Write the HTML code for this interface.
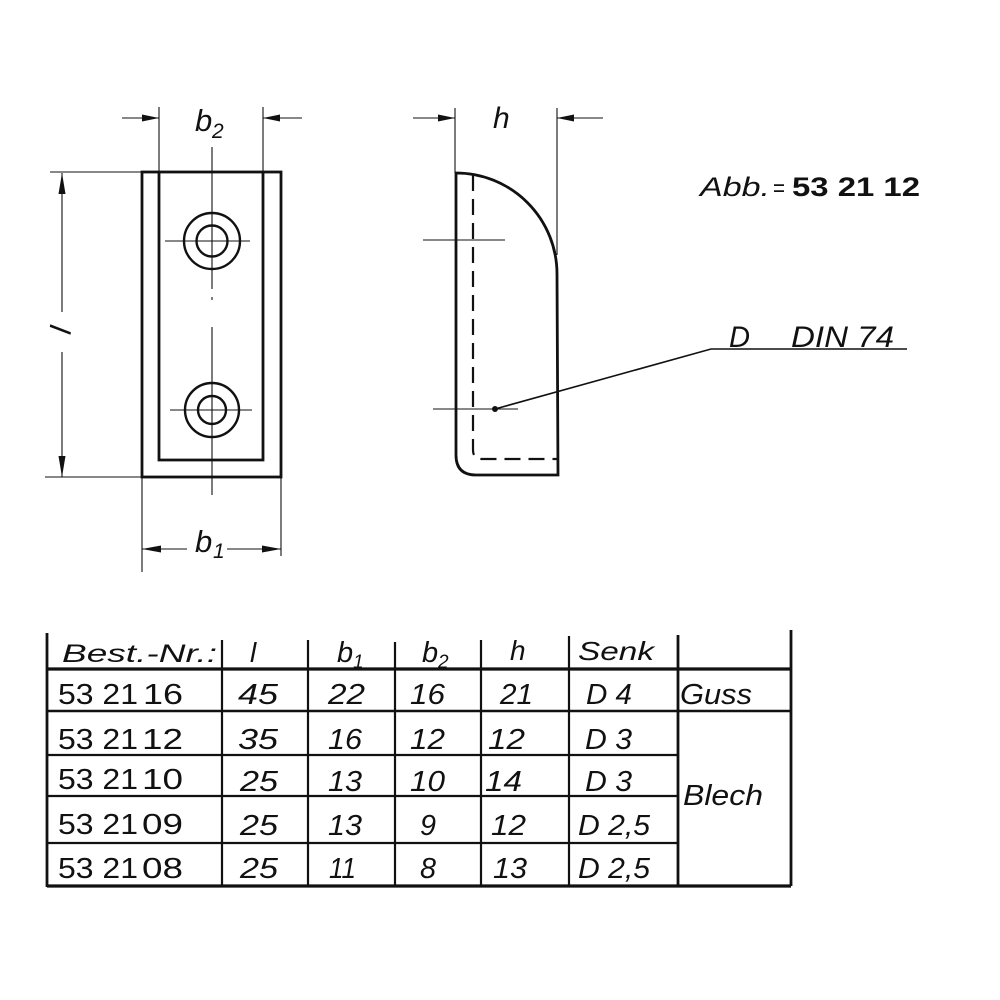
<!DOCTYPE html>
<html>
<head>
<meta charset="utf-8">
<style>
html,body{margin:0;padding:0;background:#fff;}
svg{display:block;}
text{font-family:"Liberation Sans",sans-serif;fill:#111;}
.it{font-style:italic;}
</style>
</head>
<body>
<svg width="1000" height="1000" viewBox="0 0 1000 1000" xmlns="http://www.w3.org/2000/svg">
<rect width="1000" height="1000" fill="#fff"/>
<g stroke="#111" fill="none" stroke-linecap="butt">
  <!-- LEFT VIEW -->
  <rect x="142" y="172" width="139" height="305" stroke-width="2.8"/>
  <path d="M159,172 L159,460 L263,460 L263,172" stroke-width="2.8"/>
  <circle cx="212" cy="241" r="28" stroke-width="2.4"/>
  <circle cx="212" cy="241" r="15.5" stroke-width="2.4"/>
  <circle cx="212" cy="410" r="27" stroke-width="2.4"/>
  <circle cx="212" cy="410" r="14" stroke-width="2.4"/>
  <!-- center lines -->
  <path d="M212,147 L212,289 M212,297 L212,300 M212,327 L212,495" stroke-width="1.1"/>
  <path d="M165,241 L250,241 M170,410 L252,410" stroke-width="1.1"/>
  <!-- b2 dim -->
  <path d="M159,107 L159,172 M263,107 L263,172" stroke-width="1.1"/>
  <path d="M122,118 L159,118 M263,118 L302,118" stroke-width="1.1"/>
  <!-- l dim -->
  <path d="M50,172 L142,172 M45,477 L142,477" stroke-width="1.1"/>
  <path d="M62,173 L62,312 M62,352 L62,477" stroke-width="1.1"/>
  <!-- b1 dim -->
  <path d="M142,477 L142,572 M281,477 L281,556" stroke-width="1.1"/>
  <path d="M142,549 L187,549 M227,549 L281,549" stroke-width="1.1"/>

  <!-- RIGHT VIEW -->
  <path d="M456,173 A101,101 0 0 1 557,274 L558,475 L476,475 Q456,475 456,455 Z" stroke-width="2.8"/>
  <path d="M473,175 L473,450 Q473,459 482,459 L557,459" stroke-width="2.2" stroke-dasharray="16,8"/>
  <path d="M455,108 L455,173 M557,108 L557,255" stroke-width="1.1"/>
  <path d="M413,118 L455,118 M557,118 L603,118" stroke-width="1.1"/>
  <path d="M423,240 L505,240 M433,409 L518,409" stroke-width="1.1"/>
  <path d="M495,409 L711,349 L907,349" stroke-width="1.6"/>

  <!-- TABLE -->
  <path d="M47,633 L47,887" stroke-width="2.8"/>
  <path d="M222,640 L222,886 M308,640 L308,886 M395,642 L395,886 M481,640 L481,886 M569,636 L569,886" stroke-width="2.2"/>
  <path d="M678,635 L678,886 M791,630 L791,886" stroke-width="2.8"/>
  <path d="M47,669 L791,669" stroke-width="3.2"/>
  <path d="M47,711 L791,711" stroke-width="2.4"/>
  <path d="M47,755 L678,755 M47,796 L678,796 M47,843 L678,843" stroke-width="2.2"/>
  <path d="M47,886 L791,886" stroke-width="3.2"/>
</g>

<!-- arrowheads -->
<g fill="#111" stroke="none">
  <polygon points="159,118 142,114.5 142,121.5"/>
  <polygon points="263,118 280,114.5 280,121.5"/>
  <polygon points="455,118 438,114.5 438,121.5"/>
  <polygon points="557,118 574,114.5 574,121.5"/>
  <polygon points="62,173 58.5,194 65.5,194"/>
  <polygon points="62,477 58.5,456 65.5,456"/>
  <polygon points="142,549 161,545.5 161,552.5"/>
  <polygon points="281,549 262,545.5 262,552.5"/>
  <circle cx="495" cy="409" r="3"/>
</g>

<!-- drawing labels -->
<text class="it" x="195" y="131" font-size="31">b</text>
<text class="it" x="212" y="138" font-size="21">2</text>
<text class="it" x="493" y="128" font-size="30">h</text>
<text class="it" x="195" y="552" font-size="31">b</text>
<text class="it" x="213" y="558" font-size="21">1</text>
<text class="it" font-size="30" transform="translate(71,332) rotate(-80)" text-anchor="middle">l</text>

<text class="it" x="700" y="196" font-size="27" textLength="70" lengthAdjust="spacingAndGlyphs">Abb.</text>
<text x="773" y="196" font-size="24" textLength="12" lengthAdjust="spacingAndGlyphs">=</text>
<text x="792" y="196" font-size="27" font-weight="bold" textLength="128" lengthAdjust="spacingAndGlyphs">53 21 12</text>

<text class="it" x="729" y="347" font-size="30" textLength="21" lengthAdjust="spacingAndGlyphs">D</text>
<text class="it" x="791" y="347" font-size="30" textLength="103" lengthAdjust="spacingAndGlyphs">DIN 74</text>

<!-- table header -->
<text class="it" x="62" y="662" font-size="25" textLength="155" lengthAdjust="spacingAndGlyphs">Best.-Nr.:</text>
<text class="it" x="250" y="662" font-size="28">l</text>
<text class="it" x="337" y="662" font-size="29">b</text>
<text class="it" x="353" y="668" font-size="19">1</text>
<text class="it" x="422" y="662" font-size="29">b</text>
<text class="it" x="438" y="668" font-size="19">2</text>
<text class="it" x="510" y="660" font-size="28">h</text>
<text class="it" x="578" y="660" font-size="26" textLength="76" lengthAdjust="spacingAndGlyphs">Senk</text>

<!-- column 1 -->
<g font-size="29">
  <text x="58" y="704" textLength="80" lengthAdjust="spacingAndGlyphs">53 21</text>
  <text x="143" y="704" textLength="40" lengthAdjust="spacingAndGlyphs">16</text>
  <text x="58" y="749" textLength="80" lengthAdjust="spacingAndGlyphs">53 21</text>
  <text x="142" y="749" textLength="41" lengthAdjust="spacingAndGlyphs">12</text>
  <text x="58" y="789" textLength="80" lengthAdjust="spacingAndGlyphs">53 21</text>
  <text x="142" y="789" textLength="41" lengthAdjust="spacingAndGlyphs">10</text>
  <text x="58" y="834" textLength="80" lengthAdjust="spacingAndGlyphs">53 21</text>
  <text x="142" y="834" textLength="41" lengthAdjust="spacingAndGlyphs">09</text>
  <text x="58" y="878" textLength="80" lengthAdjust="spacingAndGlyphs">53 21</text>
  <text x="142" y="878" textLength="41" lengthAdjust="spacingAndGlyphs">08</text>
</g>

<!-- data -->
<g font-size="29" font-style="italic">
  <text x="238" y="704" textLength="40" lengthAdjust="spacingAndGlyphs">45</text>
  <text x="328" y="704" textLength="37" lengthAdjust="spacingAndGlyphs">22</text>
  <text x="410" y="704" textLength="35" lengthAdjust="spacingAndGlyphs">16</text>
  <text x="500" y="704" textLength="33" lengthAdjust="spacingAndGlyphs">21</text>
  <text x="586" y="704" textLength="46" lengthAdjust="spacingAndGlyphs">D 4</text>
  <text x="680" y="704" textLength="72" lengthAdjust="spacingAndGlyphs">Guss</text>

  <text x="238" y="749" textLength="40" lengthAdjust="spacingAndGlyphs">35</text>
  <text x="328" y="749" textLength="34" lengthAdjust="spacingAndGlyphs">16</text>
  <text x="410" y="749" textLength="35" lengthAdjust="spacingAndGlyphs">12</text>
  <text x="488" y="749" textLength="37" lengthAdjust="spacingAndGlyphs">12</text>
  <text x="585" y="749" textLength="47" lengthAdjust="spacingAndGlyphs">D 3</text>

  <text x="240" y="791" textLength="38" lengthAdjust="spacingAndGlyphs">25</text>
  <text x="328" y="791" textLength="34" lengthAdjust="spacingAndGlyphs">13</text>
  <text x="410" y="791" textLength="35" lengthAdjust="spacingAndGlyphs">10</text>
  <text x="485" y="791" textLength="37" lengthAdjust="spacingAndGlyphs">14</text>
  <text x="585" y="791" textLength="47" lengthAdjust="spacingAndGlyphs">D 3</text>

  <text x="240" y="835" textLength="38" lengthAdjust="spacingAndGlyphs">25</text>
  <text x="328" y="835" textLength="34" lengthAdjust="spacingAndGlyphs">13</text>
  <text x="420" y="835" textLength="16" lengthAdjust="spacingAndGlyphs">9</text>
  <text x="491" y="835" textLength="35" lengthAdjust="spacingAndGlyphs">12</text>
  <text x="578" y="835" textLength="72" lengthAdjust="spacingAndGlyphs">D 2,5</text>

  <text x="240" y="878" textLength="38" lengthAdjust="spacingAndGlyphs">25</text>
  <text x="329" y="878" textLength="27" lengthAdjust="spacingAndGlyphs">11</text>
  <text x="420" y="878" textLength="16" lengthAdjust="spacingAndGlyphs">8</text>
  <text x="493" y="878" textLength="34" lengthAdjust="spacingAndGlyphs">13</text>
  <text x="578" y="878" textLength="72" lengthAdjust="spacingAndGlyphs">D 2,5</text>

  <text x="683" y="805" textLength="80" lengthAdjust="spacingAndGlyphs">Blech</text>
</g>
</svg>
</body>
</html>
